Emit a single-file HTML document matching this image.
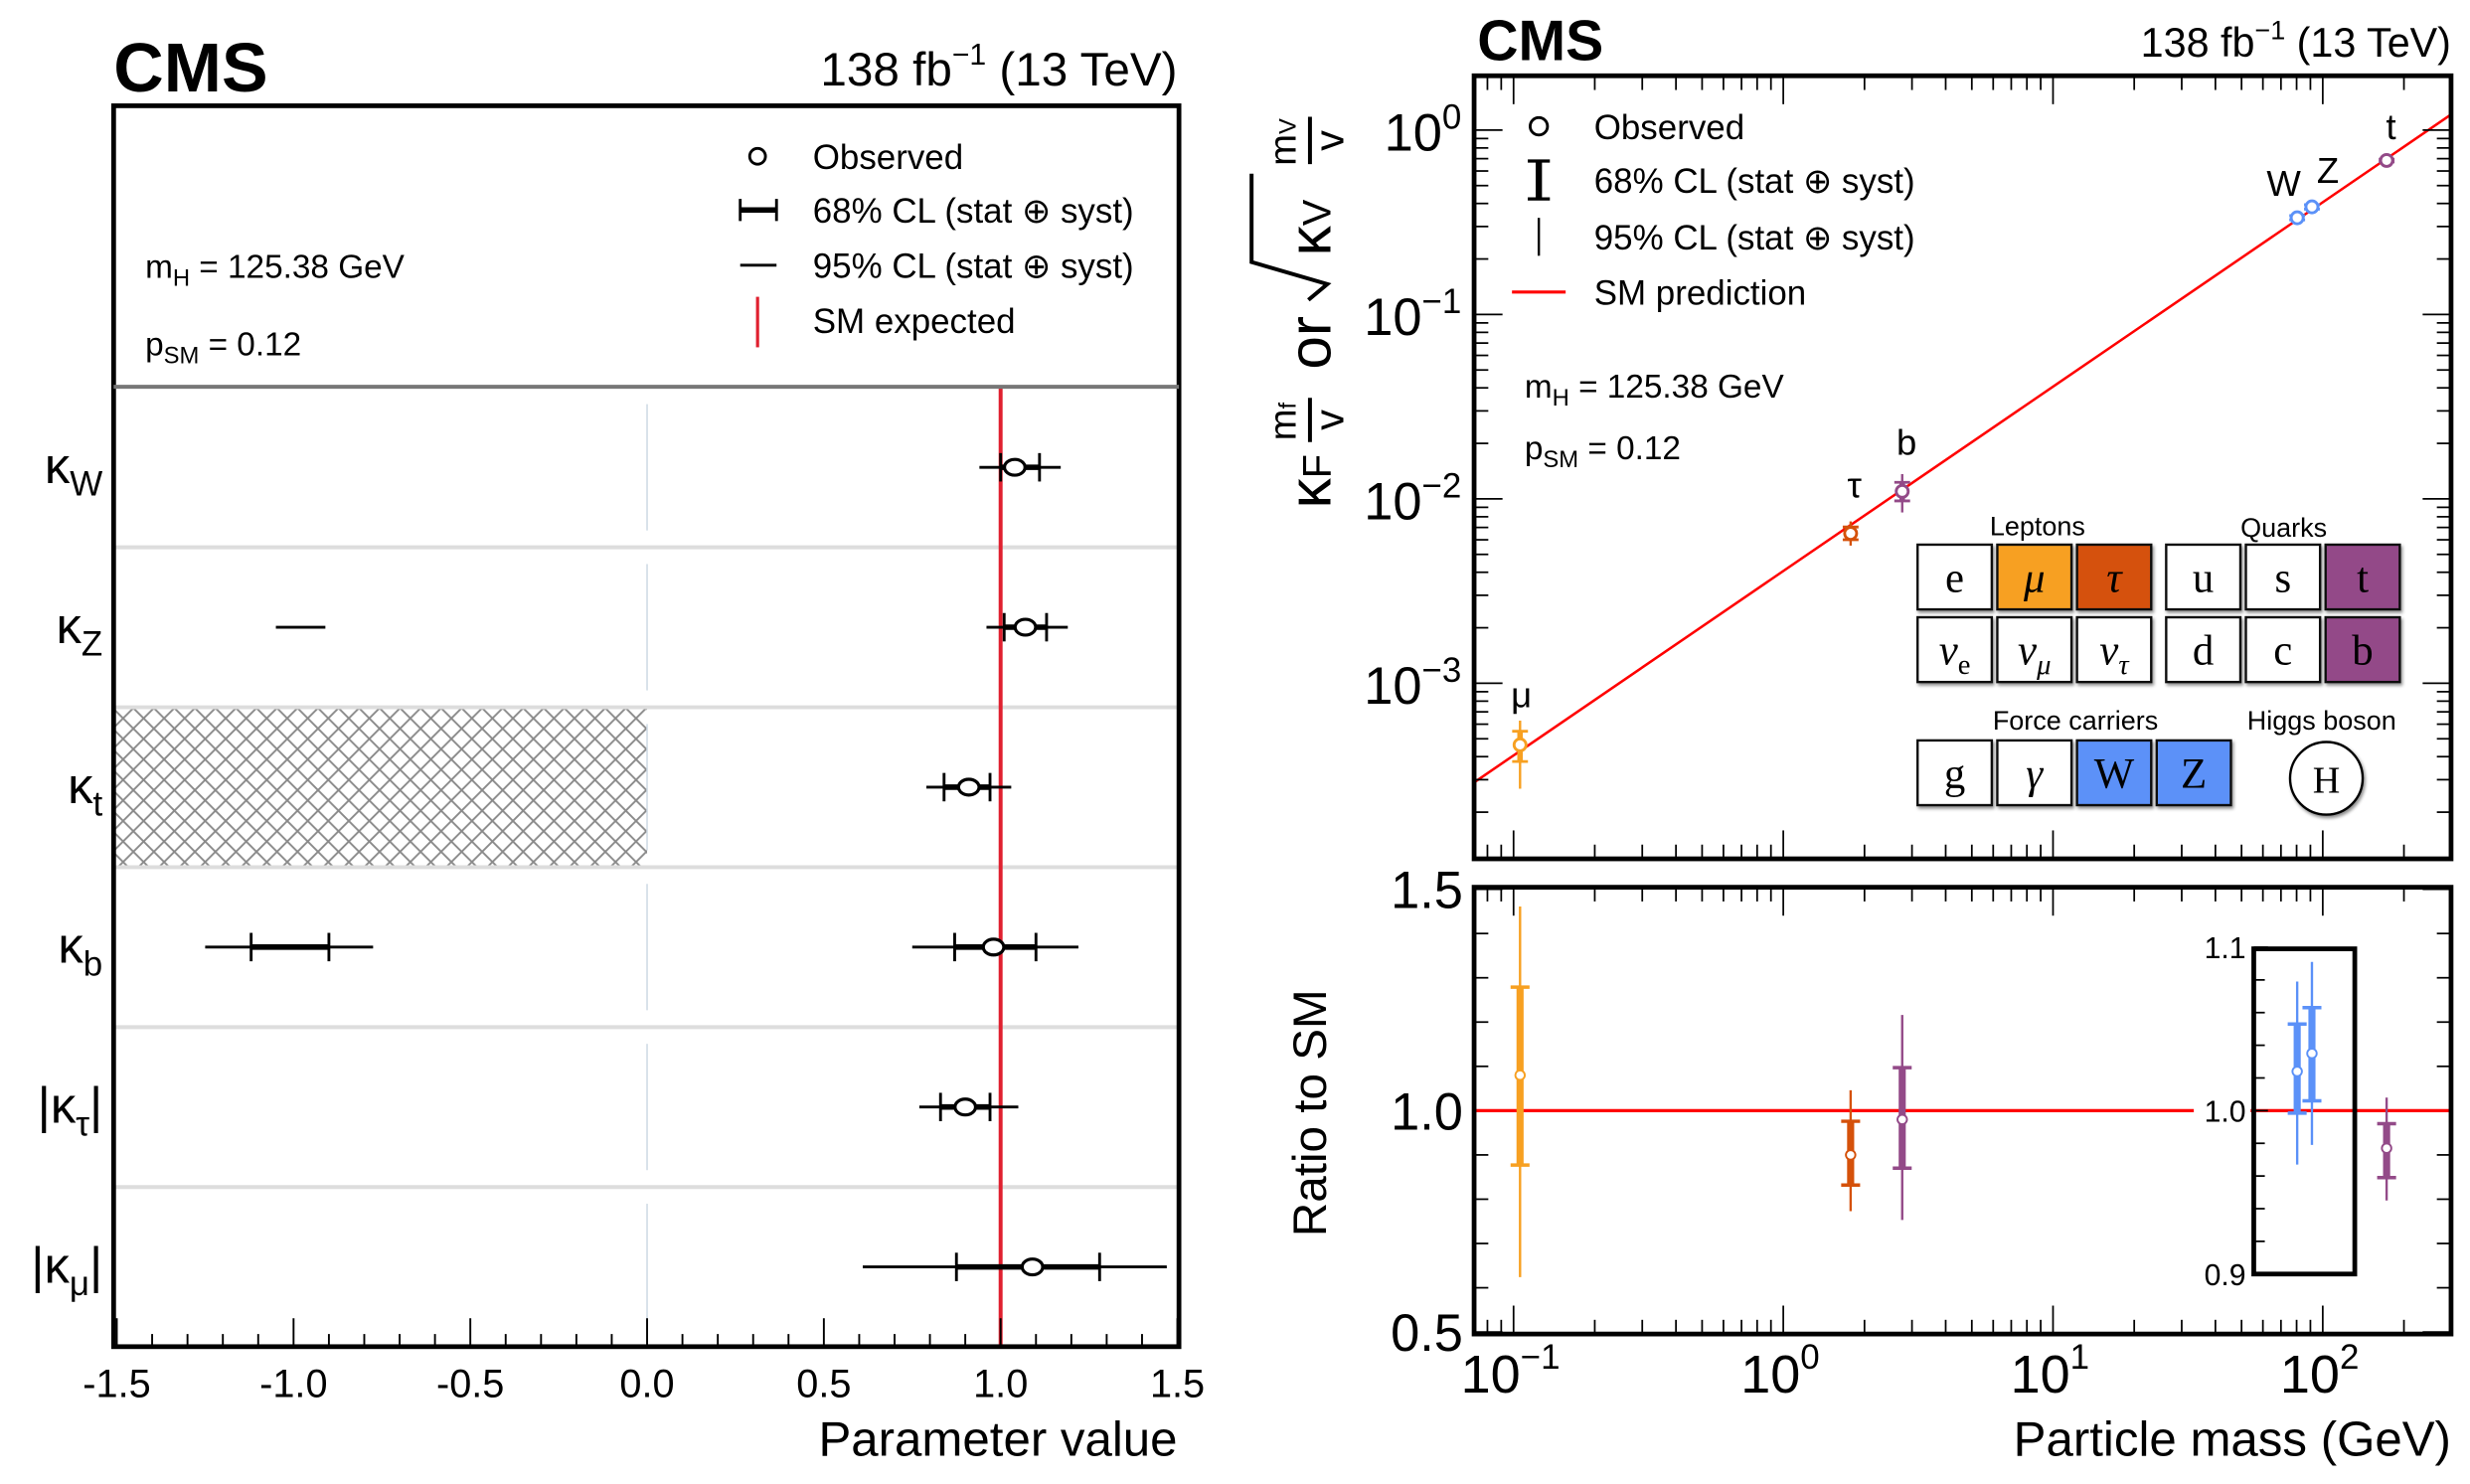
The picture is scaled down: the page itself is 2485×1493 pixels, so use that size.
<!DOCTYPE html>
<html><head><meta charset="utf-8"><style>
html,body{margin:0;padding:0;background:#fff;}
svg{display:block;font-family:"Liberation Sans",sans-serif;}
</style></head><body>
<svg id="fig" width="2485" height="1493" viewBox="0 0 1565 940" preserveAspectRatio="none" xmlns="http://www.w3.org/2000/svg">
<defs>
<pattern id="hatch" width="13" height="13" patternUnits="userSpaceOnUse">
<path d="M0 0L13 13M13 0L0 13M-2 11L2 15M11 -2L15 2M-2 2L2 -2M11 15L15 11" stroke="#8a8a8a" stroke-width="1.2"/>
</pattern>
<filter id="sh" x="-20%" y="-20%" width="150%" height="150%"><feDropShadow dx="1" dy="1.5" stdDeviation="1" flood-opacity="0.45"/></filter>
</defs>

<g>
<text x="72" y="58" font-size="44" font-weight="bold">CMS</text>
<text x="746" y="54" font-size="30" text-anchor="end">138 fb<tspan dy="-13" font-size="19">−1</tspan><tspan dy="13"> (13 TeV)</tspan></text>
<g id="leftPlot"></g>
<rect x="72" y="67" width="675" height="786" fill="none" stroke="#000" stroke-width="3"/>
<line x1="72" y1="245" x2="747" y2="245" stroke="#777" stroke-width="2.5"/>
<text x="92" y="176" font-size="21">m<tspan font-size="15" dy="5">H</tspan><tspan dy="-5"> = 125.38 GeV</tspan></text>
<text x="92" y="225" font-size="21">p<tspan font-size="15" dy="5">SM</tspan><tspan dy="-5"> = 0.12</tspan></text>
<g>
<circle cx="480" cy="99" r="5" fill="#fff" stroke="#000" stroke-width="1.8"/>
<text x="515" y="107" font-size="22">Observed</text>
<line x1="469" y1="133" x2="492" y2="133" stroke="#000" stroke-width="3.5"/>
<line x1="469" y1="126" x2="469" y2="140" stroke="#000" stroke-width="1.8"/>
<line x1="492" y1="126" x2="492" y2="140" stroke="#000" stroke-width="1.8"/>
<text x="515" y="141" font-size="22">68% CL (stat ⊕ syst)</text>
<line x1="469" y1="168" x2="492" y2="168" stroke="#000" stroke-width="1.8"/>
<text x="515" y="176" font-size="22">95% CL (stat ⊕ syst)</text>
<line x1="480" y1="188" x2="480" y2="220" stroke="#e0202f" stroke-width="2"/>
<text x="515" y="211" font-size="22">SM expected</text>
</g>
<text x="746" y="922" font-size="31" text-anchor="end">Parameter value</text>
<g id="leftLabels" font-size="32"></g>
</g>

<g>
<text x="936" y="38" font-size="36" font-weight="bold">CMS</text>
<text x="1553" y="36" font-size="26" text-anchor="end">138 fb<tspan dy="-11" font-size="17">−1</tspan><tspan dy="11"> (13 TeV)</tspan></text>
<g id="topPlot"></g>
<g id="botPlot"></g>
<rect x="934" y="48" width="619" height="496" fill="none" stroke="#000" stroke-width="3"/>
<rect x="934" y="562" width="619" height="283" fill="none" stroke="#000" stroke-width="3"/>
<g>
<circle cx="975" cy="80" r="5.5" fill="#fff" stroke="#000" stroke-width="1.8"/>
<text x="1010" y="88" font-size="22">Observed</text>
<line x1="975" y1="102" x2="975" y2="126" stroke="#000" stroke-width="4"/>
<line x1="968" y1="102" x2="982" y2="102" stroke="#000" stroke-width="2"/>
<line x1="968" y1="126" x2="982" y2="126" stroke="#000" stroke-width="2"/>
<text x="1010" y="122" font-size="22">68% CL (stat ⊕ syst)</text>
<line x1="975" y1="138" x2="975" y2="162" stroke="#000" stroke-width="1.5"/>
<text x="1010" y="158" font-size="22">95% CL (stat ⊕ syst)</text>
<line x1="958" y1="185" x2="992" y2="185" stroke="#f00" stroke-width="2"/>
<text x="1010" y="193" font-size="22">SM prediction</text>
</g>
<text x="966" y="252" font-size="21">m<tspan font-size="15" dy="5">H</tspan><tspan dy="-5"> = 125.38 GeV</tspan></text>
<text x="966" y="291" font-size="21">p<tspan font-size="15" dy="5">SM</tspan><tspan dy="-5"> = 0.12</tspan></text>
<g font-family="Liberation Serif, serif">
<text x="1291" y="339" font-size="17" text-anchor="middle" font-family="Liberation Sans, sans-serif">Leptons</text>
<text x="1447" y="340" font-size="17" text-anchor="middle" font-family="Liberation Sans, sans-serif">Quarks</text>
<text x="1315" y="462" font-size="17" text-anchor="middle" font-family="Liberation Sans, sans-serif">Force carriers</text>
<text x="1471" y="462" font-size="17" text-anchor="middle" font-family="Liberation Sans, sans-serif">Higgs boson</text>
<g id="cells"></g>
<circle cx="1474" cy="493" r="23" fill="#fff" stroke="#000" stroke-width="1.5" filter="url(#sh)"/>
<text x="1474" y="502" font-size="24" text-anchor="middle">H</text>
</g>
<g transform="translate(843,322) rotate(-90)">
<text x="0" y="0" font-size="38">κ<tspan font-size="25" dy="0">F</tspan></text>
<text x="55" y="-22" font-size="24" text-anchor="middle">m<tspan font-size="15">f</tspan></text>
<line x1="42" y1="-13" x2="70" y2="-13" stroke="#000" stroke-width="2.5"/>
<text x="56" y="8" font-size="26" text-anchor="middle">v</text>
<text x="88" y="0" font-size="38">or</text>
<path d="M132 -14 L142 -2 L156 -50 L212 -50" fill="none" stroke="#000" stroke-width="2.5"/>
<text x="160" y="0" font-size="38">κ<tspan font-size="25">V</tspan></text>
<text x="232" y="-22" font-size="24" text-anchor="middle">m<tspan font-size="15">V</tspan></text>
<line x1="218" y1="-13" x2="248" y2="-13" stroke="#000" stroke-width="2.5"/>
<text x="233" y="8" font-size="26" text-anchor="middle">v</text>
</g>
<text transform="translate(840,705) rotate(-90)" font-size="30" text-anchor="middle">Ratio to SM</text>
<text x="1553" y="922" font-size="31" text-anchor="end">Particle mass (GeV)</text>
</g>
</svg>
<script>
// ---------- LEFT CHART DATA ----------
const paramSub = ['W','Z','t','b','τ','μ'];
const paramAbs = [false,false,false,false,true,true];
const obsVal = [1.04,1.07,0.91,0.98,0.90,1.09];
const lo68 = [1.00,1.01,0.84,0.87,0.83,0.875];
const hi68 = [1.11,1.13,0.97,1.10,0.97,1.28];
const lo95 = [0.94,0.96,0.79,0.75,0.77,0.61];
const hi95 = [1.17,1.19,1.03,1.22,1.05,1.47];
const negRow = [1,3];
const negLo95 = [-1.05,-1.25];
const negHi95 = [-0.91,-0.775];
const negLo68 = [null,-1.12];
const negHi68 = [null,-0.90];
const xTickVals = [-1.5,-1.0,-0.5,0.0,0.5,1.0,1.5];
const xTickLabels = ['-1.5','-1.0','-0.5','0.0','0.5','1.0','1.5'];

// ---------- RIGHT CHART DATA ----------
const particles = ['μ','τ','b','W','Z','t'];
const masses = [0.1057,1.777,2.76,80.4,91.19,172.5];
const ratio = [1.08,0.90,0.98,1.024,1.035,0.977];
const r68lo = [0.877,0.832,0.870,0.9985,1.006,0.959];
const r68hi = [1.279,0.976,1.097,1.053,1.063,0.992];
const r95lo = [0.624,0.773,0.753,0.967,0.979,0.945];
const r95hi = [1.461,1.046,1.216,1.079,1.091,1.008];
const onInset = [false,false,false,true,true,true];
const pColors = ['#f7a021','#d5510a','#934a88','#5b91f8','#5b91f8','#934a88'];
const vev = 246.22;
const massTickExp = [-1,0,1,2];
const yTopExp = [0,-1,-2,-3];
const ratioTickLabels = ['0.5','1.0','1.5'];
const ratioTickVals = [0.5,1.0,1.5];
const insetTickLabels = ['0.9','1.0','1.1'];
const insetTickVals = [0.9,1.0,1.1];

const NS='http://www.w3.org/2000/svg';
function mk(parent,tag,attrs){const e=document.createElementNS(NS,tag);for(const k in attrs)e.setAttribute(k,attrs[k]);parent.appendChild(e);return e;}

const xL = v => 410 + v*224;
const rowY = i => 296 + i*101.3;
const lp = document.getElementById('leftPlot');
let h = mk(lp,'rect',{x:72,y:448,width:xL(0)-72,height:101,fill:'url(#hatch)'});


for(let i=1;i<6;i++){
  const s = mk(lp,'line',{x1:72,x2:747,y1:rowY(i)-50.6,y2:rowY(i)-50.6,stroke:'#ddd','stroke-width':2.5});
  
  
}
for(let i=0;i<6;i++){
  const d = mk(lp,'line',{x1:xL(0),x2:xL(0),y1:rowY(i)-40,y2:rowY(i)+40,stroke:'#cfdbe5','stroke-width':1});
  
  
}
let red = mk(lp,'line',{x1:xL(1),x2:xL(1),y1:245,y2:853,stroke:'#e0202f','stroke-width':2.5});


for(let k=-15;k<=15;k++){
  const v=k/10, major=(k%5===0);
  const t = mk(lp,'line',{x1:xL(v),x2:xL(v),y1:853,y2:853-(major?18:8),stroke:'#000','stroke-width':1.2});
  
  
}
xTickVals.forEach((v,i)=>{
  const t = mk(lp,'text',{x:xL(v),y:885,'font-size':25,'text-anchor':'middle'});
  t.textContent = xTickLabels[i];
  
  
});
function errBar(g,y,a,b,c,d,o,name){
  const l95 = mk(g,'line',{x1:xL(a),x2:xL(b),y1:y,y2:y,stroke:'#000','stroke-width':1.8});
  
  
  if(c!==null){
    const l68 = mk(g,'line',{x1:xL(c),x2:xL(d),y1:y,y2:y,stroke:'#000','stroke-width':3.5});
    
    
    [c,d].forEach(v=>{const cp=mk(g,'line',{x1:xL(v),x2:xL(v),y1:y-9,y2:y+9,stroke:'#000','stroke-width':1.8});
      
      });
  }
  if(o!==null){
    const c0 = mk(g,'ellipse',{cx:xL(o),cy:y,rx:6.5,ry:5,fill:'#fff',stroke:'#000','stroke-width':2});
    
    
  }
}
paramSub.forEach((p,i)=>{
  errBar(lp,rowY(i),lo95[i],hi95[i],lo68[i],hi68[i],obsVal[i],'kappa-'+i);
});
negRow.forEach((r,j)=>{
  errBar(lp,rowY(r),negLo95[j],negHi95[j],negLo68[j],negHi68[j],null,'kappa-neg-'+r);
});
const ll = document.getElementById('leftLabels');
paramSub.forEach((p,i)=>{
  const t = mk(ll,'text',{x:65,y:rowY(i)+10,'text-anchor':'end','font-size':32});
  
  
  const pre = paramAbs[i]?'|κ':'κ';
  t.appendChild(document.createTextNode(pre));
  const s = mk(t,'tspan',{'font-size':22,dy:8}); s.textContent=p;
  if(paramAbs[i]){const s2=mk(t,'tspan',{dy:-8,'font-size':32}); s2.textContent='|';}
});

const xM = m => 959 + 170.9*(Math.log10(m)+1);
const yT = v => 82.4 - 116.8*Math.log10(v);
const tp = document.getElementById('topPlot');
const mlo = Math.pow(10,-1-(959-934)/170.9), mhi = Math.pow(10,-1+(1553-959)/170.9);
let sm = mk(tp,'line',{x1:xM(mlo),y1:yT(mlo/vev),x2:xM(mhi),y2:yT(mhi/vev),stroke:'#f00','stroke-width':1.6});


function logTicks(g,xfn,lo,hi,isX,y0,y1,xA,xB){
  for(let e=-4;e<=3;e++){for(let k=1;k<=9;k++){
    const v=k*Math.pow(10,e); const p=xfn(v);
    if(p<lo||p>hi)continue;
    const L = k===1?18:9;
    if(isX){
      [[y0,y0+L],[y1,y1-L]].forEach(a=>{const t=mk(g,'line',{x1:p,x2:p,y1:a[0],y2:a[1],stroke:'#000','stroke-width':1.1});
        
        });
    } else {
      [[xA,xA+L],[xB,xB-L]].forEach(a=>{const t=mk(g,'line',{x1:a[0],x2:a[1],y1:p,y2:p,stroke:'#000','stroke-width':1.1});
        
        });
    }
  }}
}
logTicks(tp,xM,935,1552,true,48,544);
logTicks(tp,yT,49,543,false,0,0,934,1553);
yTopExp.forEach(e=>{
  const t = mk(tp,'text',{x:926,y:yT(Math.pow(10,e))+13,'text-anchor':'end','font-size':33});
  
  
  t.appendChild(document.createTextNode('10'));
  const s=mk(t,'tspan',{'font-size':22,dy:-14}); s.textContent = e===0?'0':'−'+(-e);
});
particles.forEach((p,i)=>{
  const x=xM(masses[i]), base=masses[i]/vev, c=pColors[i];
  const l=mk(tp,'line',{x1:x,x2:x,y1:yT(base*r95lo[i]),y2:yT(base*r95hi[i]),stroke:c,'stroke-width':1.5});
  
  
  const l2=mk(tp,'line',{x1:x,x2:x,y1:yT(base*r68lo[i]),y2:yT(base*r68hi[i]),stroke:c,'stroke-width':3.5});
  
  
  [r68lo[i],r68hi[i]].forEach(r=>{const cp=mk(tp,'line',{x1:x-5,x2:x+5,y1:yT(base*r),y2:yT(base*r),stroke:c,'stroke-width':1.8});
    
    });
  const o=mk(tp,'circle',{cx:x,cy:yT(base*ratio[i]),r:3.8,fill:'#fff',stroke:c,'stroke-width':1.8});
  
  
});
const plabX=[964,1175,1208,1447,1475,1515], plabY=[448,315,288,124,116,88];
particles.forEach((p,i)=>{
  const t=mk(tp,'text',{x:plabX[i],y:plabY[i],'font-size':23,'text-anchor':'middle'});
  t.textContent=p;
  
  
});

const cellNames=[['e','μ','τ','u','s','t'],['νe','νμ','ντ','d','c','b'],['g','γ','W','Z']];
const cellXRows=[[1215,1265.5,1316,1372.5,1423,1473.5],[1215,1265.5,1316,1372.5,1423,1473.5],[1215,1265.5,1316,1366.5]];
const cellY=[345,391,469];
const cellFill=[['#fff','#f7a021','#d5510a','#fff','#fff','#934a88'],['#fff','#fff','#fff','#fff','#fff','#934a88'],['#fff','#fff','#5b91f8','#5b91f8']];
const cg=document.getElementById('cells');
cellNames.forEach((row,r)=>row.forEach((n,c)=>{
  const x=cellXRows[r][c], y=cellY[r];
  const b=mk(cg,'rect',{x:x,y:y,width:47,height:41,fill:cellFill[r][c],stroke:'#111','stroke-width':1.5,filter:'url(#sh)'});
  
  
  const greek=/[μτγν]/.test(n);
  const t=mk(cg,'text',{x:x+23.5,y:y+30,'font-size':27,'text-anchor':'middle','font-style':greek?'italic':'normal'});
  
  
  if(n.length===2&&n[0]==='ν'){t.appendChild(document.createTextNode('ν'));const s=mk(t,'tspan',{'font-size':18,dy:6,'font-style':n[1]==='e'?'normal':'italic'});s.textContent=n[1];}
  else t.textContent=n;
}));

const bp=document.getElementById('botPlot');
const yR = r => 703.5 - (r-1)*280.5;
const yI = r => 703.5 - (r-1)*1035;
logTicks(bp,xM,935,1552,true,562,845);
for(let k=5;k<=15;k++){const r=k/10, L=(k%5===0)?18:9;
  [[934,934+L],[1553,1553-L]].forEach(a=>{const t=mk(bp,'line',{x1:a[0],x2:a[1],y1:yR(r),y2:yR(r),stroke:'#000','stroke-width':1.1});
    
    });}
ratioTickVals.forEach((v,i)=>{const t=mk(bp,'text',{x:927,y:yR(v)+12,'text-anchor':'end','font-size':33});t.textContent=ratioTickLabels[i];
  
  });
massTickExp.forEach(e=>{
  const t=mk(bp,'text',{x:xM(Math.pow(10,e))-2,y:882,'text-anchor':'middle','font-size':34});
  
  
  t.appendChild(document.createTextNode('10'));
  const s=mk(t,'tspan',{'font-size':22,dy:-15});s.textContent=e<0?'−'+(-e):String(e);
});
let rl=mk(bp,'line',{x1:934,x2:1553,y1:yR(1),y2:yR(1),stroke:'#f00','stroke-width':2});


let ib=mk(bp,'rect',{x:1390,y:690,width:36,height:26,fill:'#fff'});


let ir=mk(bp,'rect',{x:1428,y:601,width:64,height:206,fill:'none',stroke:'#000','stroke-width':3});


for(let k=0;k<=10;k++){const r=0.9+k*0.02;
  const t=mk(bp,'line',{x1:1428,x2:1428+((k%5===0)?9:7),y1:yI(r),y2:yI(r),stroke:'#000','stroke-width':1.1});
  
  }
insetTickVals.forEach((v,i)=>{const t=mk(bp,'text',{x:1423,y:yI(v)+7,'text-anchor':'end','font-size':19});t.textContent=insetTickLabels[i];
  
  });
particles.forEach((p,i)=>{
  const yf=onInset[i]?yI:yR, x=xM(masses[i]), c=pColors[i];
  const l=mk(bp,'line',{x1:x,x2:x,y1:yf(r95lo[i]),y2:yf(r95hi[i]),stroke:c,'stroke-width':1.5});
  
  
  const l2=mk(bp,'line',{x1:x,x2:x,y1:yf(r68lo[i]),y2:yf(r68hi[i]),stroke:c,'stroke-width':4.5});
  
  
  [r68lo[i],r68hi[i]].forEach(r=>{const cp=mk(bp,'line',{x1:x-6,x2:x+6,y1:yf(r),y2:yf(r),stroke:c,'stroke-width':2.2});
    
    });
  const o=mk(bp,'circle',{cx:x,cy:yf(ratio[i]),r:3,fill:'#fff',stroke:c,'stroke-width':1.2});
  
  
});
</script>
</body></html>
